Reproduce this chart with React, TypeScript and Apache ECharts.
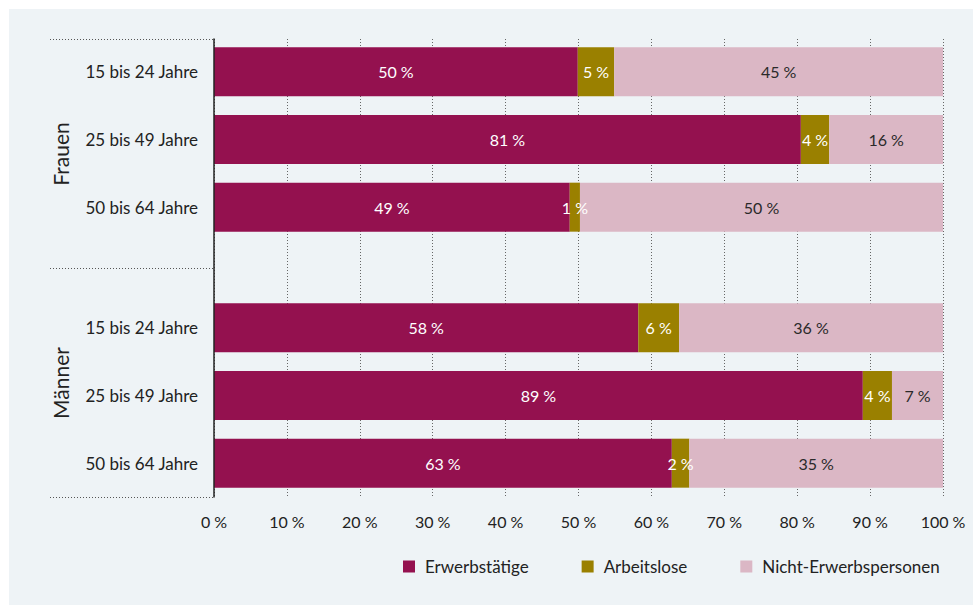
import React, { useEffect, useRef } from "react";
import * as echarts from "echarts";

const categories = ["15 bis 24 Jahre", "25 bis 49 Jahre", "50 bis 64 Jahre"];
const seriesNames = ["Erwerbstätige", "Arbeitslose", "Nicht-Erwerbspersonen"];
const frauenErwerbstaetige = [49.9, 80.5, 48.8];
const frauenArbeitslose = [5.0, 3.9, 1.4];
const frauenNicht = [45.1, 15.6, 49.8];
const maennerErwerbstaetige = [58.2, 89.0, 62.8];
const maennerArbeitslose = [5.6, 4.0, 2.4];
const maennerNicht = [36.2, 7.0, 34.8];
const groupNames = ["Frauen", "Männer"];
const xTicks = { min: 0, max: 100, interval: 10 };

const COLORS = ["#94114f", "#9a8000", "#dbb7c5"];
const LABEL_COLORS = ["#ffffff", "#ffffff", "#2a2a2a"];
const FONT = "Lato, 'Noto Sans', sans-serif";

export default function App() {
  const ref = useRef<HTMLDivElement>(null);
  useEffect(() => {
    if (!ref.current) return;
    const chart = echarts.init(ref.current, null, { renderer: "svg" });
    const groups = [
      [frauenErwerbstaetige, frauenArbeitslose, frauenNicht],
      [maennerErwerbstaetige, maennerArbeitslose, maennerNicht],
    ];
    const series: any[] = [];
    groups.forEach((g, gi) => {
      g.forEach((vals, si) => {
        series.push({
          type: "bar",
          name: seriesNames[si],
          xAxisIndex: gi + 1,
          yAxisIndex: gi + 1,
          stack: "s" + gi,
          barWidth: 49,
          data: vals,
          itemStyle: { color: COLORS[si] },
          label: {
            show: true,
            position: "inside",
            color: LABEL_COLORS[si],
            fontFamily: FONT,
            fontSize: 16,
            formatter: (p: any) => Math.round(p.value) + " %",
          },
          emphasis: { disabled: true },
        });
      });
    });
    const sepLine = (y: number) => ({
      type: "line",
      shape: { x1: 50, y1: y, x2: 214, y2: y },
      style: { stroke: "#555", lineWidth: 1, lineDash: [1, 2] },
      z: 5,
    });
    const groupText = (name: string, y: number) => ({
      type: "text",
      x: 60,
      y,
      rotation: Math.PI / 2,
      style: {
        text: name,
        fontFamily: FONT,
        fontSize: 21,
        fill: "#222",
        align: "center",
        verticalAlign: "middle",
      },
    });
    chart.setOption({
      animation: false,
      textStyle: { fontFamily: FONT },
      graphic: [
        {
          type: "rect",
          shape: { x: 9, y: 9, width: 964, height: 596 },
          style: { fill: "#eef3f6" },
          z: -10,
          silent: true,
        },
        sepLine(39.5),
        sepLine(268.5),
        sepLine(497.5),
        groupText(groupNames[0], 154),
        groupText(groupNames[1], 383),
      ],
      legend: {
        data: seriesNames,
        left: 398,
        top: 553,
        icon: "rect",
        itemWidth: 12,
        itemHeight: 12,
        itemGap: 53,
        textStyle: { fontFamily: FONT, fontSize: 17, color: "#222", padding: [0, 0, 0, 5] },
        selectedMode: false,
      },
      grid: [
        { left: 214, right: 30, top: 39, bottom: 108 },
        { left: 214, right: 30, top: 38, height: 203 },
        { left: 214, right: 30, top: 294, height: 203 },
      ],
      xAxis: [
        {
          gridIndex: 0,
          type: "value",
          ...xTicks,
          axisLine: { show: false },
          axisTick: { show: false },
          axisLabel: {
            formatter: "{value} %",
            color: "#222",
            fontSize: 16,
            fontFamily: FONT,
            margin: 16,
          },
          splitLine: {
            show: true,
            lineStyle: { color: "#666", type: [1, 2], width: 1 },
          },
        },
        { gridIndex: 1, type: "value", ...xTicks, show: false },
        { gridIndex: 2, type: "value", ...xTicks, show: false },
      ],
      yAxis: [
        {
          gridIndex: 0,
          type: "value",
          position: "left",
          z: 10,
          axisLine: { show: true, onZero: false, lineStyle: { color: "#222", width: 1.5 } },
          axisTick: { show: false },
          axisLabel: { show: false },
          splitLine: { show: false },
        },
        ...[1, 2].map((gi) => ({
          gridIndex: gi,
          type: "category",
          inverse: true,
          data: categories,
          axisLine: { show: false },
          axisTick: { show: false },
          axisLabel: { color: "#222", fontSize: 17, fontFamily: FONT, margin: 16 },
          splitLine: { show: false },
        })),
      ],
      series,
    });
    return () => chart.dispose();
  }, []);
  return (
    <div
      ref={ref}
      style={{ position: "absolute", left: 0, top: 0, width: 973, height: 605, background: "#ffffff" }}
    />
  );
}
